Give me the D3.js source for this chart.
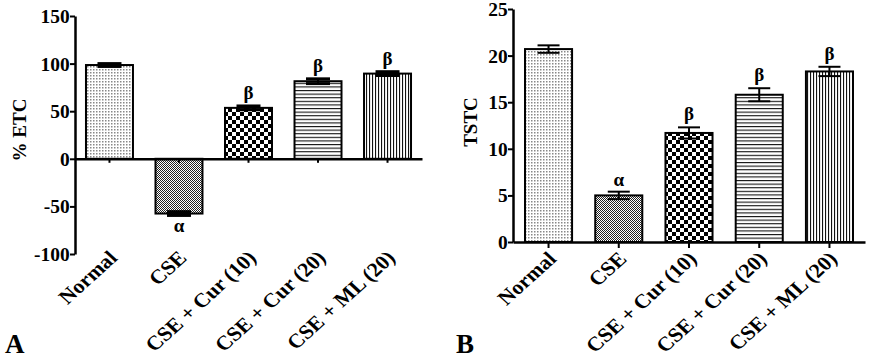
<!DOCTYPE html>
<html><head><meta charset="utf-8">
<script src="https://cdn.jsdelivr.net/npm/d3@7"></script>
<style>body{margin:0;background:#fff}svg{display:block}text{font-family:"Liberation Serif","Times New Roman",serif;font-weight:bold;fill:#000}</style>
</head><body><svg id="c" width="871" height="362"></svg>
<script>
const categories = ["Normal", "CSE", "CSE + Cur (10)", "CSE + Cur (20)", "CSE + ML (20)"];
const etcValues = [98.5, -57.5, 53.5, 81.5, 89.5];
const etcErrors = [1.5, 2.0, 2.0, 2.5, 2.0];
const etcSig = ["", "α", "β", "β", "β"];
const etcTicks = [-100, -50, 0, 50, 100, 150];
const tstcValues = [20.7, 5.0, 11.7, 15.8, 18.3];
const tstcErrors = [0.4, 0.4, 0.6, 0.7, 0.5];
const tstcSig = ["", "α", "β", "β", "β"];
const tstcTicks = [0, 5, 10, 15, 20, 25];
const patternIds = ["pNormal", "pCSE", "pCheck", "pHoriz", "pVert"];

const svg = d3.select("#c");
const defs = svg.append("defs");
function pat(id, w, h, draw) {
  const p = defs.append("pattern").attr("id", id).attr("patternUnits", "userSpaceOnUse").attr("width", w).attr("height", h);
  p.append("rect").attr("width", w).attr("height", h).attr("fill", "#fff");
  draw(p);
}
pat("pNormal", 3, 3, p => { p.append("rect").attr("x",0).attr("y",0).attr("width",1.5).attr("height",1.5).attr("fill","#888"); });
pat("pCSE", 2, 2, p => { p.append("rect").attr("x",0).attr("y",0).attr("width",1).attr("height",1).attr("fill","#222");
  p.append("rect").attr("x",1).attr("y",1).attr("width",1).attr("height",1).attr("fill","#222"); });
pat("pCheck", 8, 8, p => { p.append("rect").attr("x",0).attr("y",0).attr("width",4).attr("height",4).attr("fill","#000");
  p.append("rect").attr("x",4).attr("y",4).attr("width",4).attr("height",4).attr("fill","#000"); });
pat("pHoriz", 4, 3.6, p => { p.append("rect").attr("x",0).attr("y",0).attr("width",4).attr("height",1.1).attr("fill","#111"); });
pat("pVert", 3, 4, p => { p.append("rect").attr("x",0).attr("y",0).attr("width",1.1).attr("height",4).attr("fill","#111"); });

const fmt = d => String(d);

function panel(cfg) {
  const g = svg.append("g");
  const x = d3.scaleBand().domain(categories).range([cfg.x0, cfg.x1]).paddingInner(cfg.pin).paddingOuter(cfg.pout);
  const y = d3.scaleLinear().domain(cfg.domain).range([cfg.yBottom, cfg.yTop]);
  g.selectAll(".bar").data(cfg.values).join("rect")
    .attr("x", (d, i) => x(categories[i]))
    .attr("width", x.bandwidth())
    .attr("y", d => Math.min(y(d), y(0)))
    .attr("height", d => Math.abs(y(d) - y(0)))
    .attr("fill", (d, i) => `url(#${patternIds[i]})`)
    .attr("stroke", "#000").attr("stroke-width", 2);
  cfg.values.forEach((v, i) => {
    const cx = x(categories[i]) + x.bandwidth() / 2;
    const e = cfg.errors[i];
    const hi = y(v + e), lo = y(v - e);
    g.append("line").attr("x1", cx).attr("x2", cx).attr("y1", hi).attr("y2", lo).attr("stroke", "#000").attr("stroke-width", 2);
    [hi, lo].forEach(yy => g.append("line").attr("x1", cx - cfg.cap / 2).attr("x2", cx + cfg.cap / 2)
      .attr("y1", yy).attr("y2", yy).attr("stroke", "#000").attr("stroke-width", cfg.capW));
    const s = cfg.sig[i];
    if (s) {
      const below = v < 0;
      g.append("text").attr("x", cx).attr("text-anchor", "middle").attr("font-size", cfg.sigSize)
        .attr("y", below ? lo + 17 : (s === "α" ? hi - 6 : hi - 7)).text(s);
    }
  });
  const ya = g.append("g").attr("transform", `translate(${cfg.x0},0)`)
    .call(d3.axisLeft(y).tickValues(cfg.ticks).tickSize(5).tickSizeOuter(0).tickFormat(fmt));
  ya.attr("font-family", null);
  ya.select(".domain").attr("stroke-width", 2.5);
  ya.selectAll(".tick line").attr("stroke-width", 2);
  ya.selectAll(".tick text").attr("font-size", 18).attr("x", -5)
    .attr("transform", "scale(1.08,1)").attr("dy", "0.36em");
  const xa = g.append("g").attr("transform", `translate(0,${y(0)})`)
    .call(d3.axisBottom(x).tickSize(cfg.xTick).tickSizeOuter(0).tickFormat(""));
  xa.select(".domain").attr("stroke-width", 2.5);
  xa.selectAll(".tick line").attr("stroke-width", 2);
  categories.forEach((c, i) => {
    const cx = x(c) + x.bandwidth() / 2;
    g.append("text").attr("text-anchor", "end").attr("font-size", 20)
      .attr("transform", `translate(${cx + 9},${cfg.labelY}) scale(1.1,1) rotate(-45)`).text(c);
  });
  g.append("text").attr("text-anchor", "middle").attr("font-size", 19)
    .attr("transform", `translate(${cfg.titleX},${cfg.titleY}) rotate(-90)`).text(cfg.title);
  g.append("text").attr("x", cfg.letterX).attr("y", 353).attr("font-size", 27).text(cfg.letter);
}

panel({ x0: 75, x1: 422, pin: 0.324, pout: 0.158, domain: [-100, 150], yBottom: 254, yTop: 16,
  values: etcValues, errors: etcErrors, sig: etcSig, ticks: etcTicks, cap: 24, capW: 3, sigSize: 19,
  xTick: 4, labelY: 259, title: "% ETC", titleX: 26, titleY: 130, letter: "A", letterX: 5 });
panel({ x0: 513, x1: 865, pin: 0.33, pout: 0.171, domain: [0, 25], yBottom: 242, yTop: 9,
  values: tstcValues, errors: tstcErrors, sig: tstcSig, ticks: tstcTicks, cap: 22, capW: 2, sigSize: 19,
  xTick: 6, labelY: 260, title: "TSTC", titleX: 477, titleY: 122, letter: "B", letterX: 456 });
</script></body></html>
